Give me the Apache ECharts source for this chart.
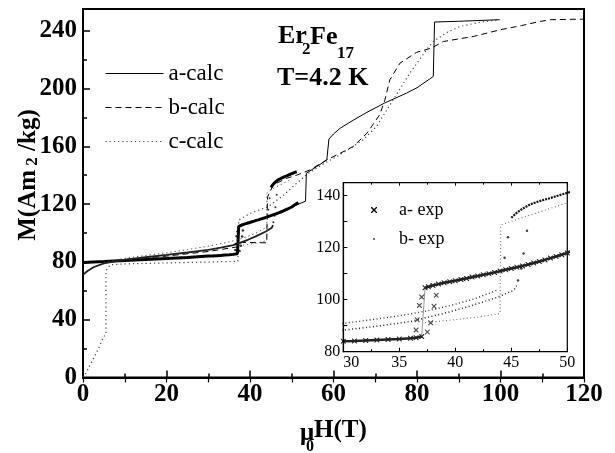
<!DOCTYPE html>
<html>
<head>
<meta charset="utf-8">
<script src="https://cdn.jsdelivr.net/npm/echarts@6/dist/echarts.min.js"></script>
<style>
  html, body { margin: 0; padding: 0; background: #fff; }
  #chart { width: 615px; height: 453px; }
</style>
</head>
<body>
<div id="chart"></div>
<script>
// Magnetization M (Am^2/kg) of Er2Fe17 at 4.2 K versus applied field mu0H (T)

// tick positions
const mainYLabelValues = [0, 40, 80, 120, 160, 200, 240];
const mainYMinorValues = [20, 60, 100, 140, 180, 220];
const insetYLabelValues = [80, 100, 120, 140];
const insetYTickValues = [80, 90, 100, 110, 120, 130, 140];

// calculated curves, [field, M]
const aCalc = [[0,79.5],[10,81],[20,82.5],[30,84],[37.1,85.6],[37.15,104.3],[40,107.3],[45,112],[50,118],[53.3,122],[53.5,141.4],[56,146],[58.4,150.6],[58.9,165],[60,168.5],[61.6,172.5],[64.7,178],[68,183.5],[72.3,190],[77.5,196.8],[80,200.5],[83.9,208.3],[84.2,246],[90,246.5],[99.7,247.6]];
const bCalc = [[0,79],[5,80.3],[10,81.6],[20,84],[30,87.2],[37.2,90.5],[38,93.5],[44,93.2],[44.2,125],[45.6,133.3],[48.8,137.9],[51.2,140],[54.4,143.7],[58.4,150.6],[61.5,155],[64.7,159.8],[68,169],[71.1,182],[72.3,192],[73.5,206],[75.9,217.5],[79.9,225],[83.5,228],[86.3,232.5],[93.5,236],[99.9,240.6],[105,243.5],[109.5,246.4],[112,247.6],[120,248]];
const cCalc = [[0,0],[0.9,4],[2.3,12],[3.7,20],[4.9,28],[5.5,30],[5.5,74],[6.5,78],[10,78.6],[20,79.3],[30,79.9],[37.1,80.4],[37.3,109],[40,113.5],[44.4,118.3],[48,126],[51,134],[54,141.4],[58,148.5],[60.8,152.9],[64,158.5],[67.1,164.5],[70.3,173.7],[74.3,192.2],[78.3,210.7],[82.3,226.8],[83.9,232.5],[87,238.5],[90.3,242.9],[95,245.8],[99.9,247.6]];

// measured data along a
const aExpLow = [[0,79.5],[5,80.2],[10,81],[15,81.7],[20,82.4],[25,83.1],[30,84],[31,84.1],[32,84.3],[33,84.5],[34,84.7],[35,84.9],[36,85.2],[36.5,85.4],[37,85.8]];
const aExpHigh = [[37.3,104.6],[37.6,105],[38,105.5],[38.5,106],[39,106.5],[39.5,106.9],[40,107.3],[40.5,107.8],[41,108.2],[41.5,108.7],[42,109.1],[42.5,109.6],[43,110],[43.5,110.5],[44,111],[44.5,111.5],[45,112],[45.5,112.5],[46,113],[46.5,113.5],[47,114.1],[47.5,114.7],[48,115.3],[48.5,116],[49,116.6],[49.5,117.3],[50,118],[51,120],[51.6,121]];
const aExpJump = [[36.5,88.3],[36.6,92.3],[36.8,97.8],[37.0,101],[37.5,87.6],[37.8,91.1],[38.1,97.5],[38.3,101.7]];

// measured data along b (several field sweeps)
const bExpUp = [[0,71],[1,73.5],[2.5,76.3],[5,79],[10,81.5],[15,83.2],[20,84.8],[25,86.5],[30,88.3],[33,89.8],[36,91.6],[39.5,95.3],[41.5,97.8],[43.8,101],[45.2,103.6],[45.5,105.5]];
const bExpUpHigh = [[45.0,131.5],[45.5,133.5],[46,135],[46.7,136.7],[47.5,137.9],[48.5,139.1],[49.3,140.2],[50,141.1],[51.2,142.5]];
const bExpJump = [[45.6,107.4],[45.9,112],[46.1,117.8],[46.4,126.5],[44.7,124],[44.4,116.1]];
const bExpMid = [[5,80],[10,82.5],[16,84.8],[20,86.3],[25,88.5],[30,90.9],[32,92],[35,93.8],[37.5,95.7],[39.6,97.8],[41.7,100.3],[43.7,103.6]];
const bExpDown = [[37.3,91.2],[39.5,92.1],[42,93.3],[44,94.7]];
const bExpDownHigh = [[44.05,127.8],[44.2,129],[46,131.6],[48,134.4],[50,137.3]];

const SERIF = '"Liberation Serif", "DejaVu Serif", serif';
const CROSS = 'path://M0,0L1.6,0L5,3.4L8.4,0L10,0L10,1.6L6.6,5L10,8.4L10,10L8.4,10L5,6.6L1.6,10L0,10L0,8.4L3.4,5L0,1.6Z';
const DOT = 'path://M0,0M10,10M3.8,3.8L6.2,3.8L6.2,6.2L3.8,6.2Z';

function line(name, data, style, extra) {
  return Object.assign({
    name: name, type: 'line', data: data, symbol: 'none',
    xAxisIndex: 0, yAxisIndex: 0, z: 3, animation: false,
    lineStyle: Object.assign({ color: '#000', width: 1 }, style),
    itemStyle: { color: style.color || '#000' }
  }, extra || {});
}
function dots(name, data, symbol, size, color, extra) {
  return Object.assign({
    name: name, type: 'scatter', data: data, symbol: symbol, symbolSize: size,
    xAxisIndex: 0, yAxisIndex: 0, z: 3, animation: false,
    itemStyle: { color: color }
  }, extra || {});
}
const INSET = { xAxisIndex: 2, yAxisIndex: 2, z: 6 };

const chart = echarts.init(document.getElementById('chart'), null, { renderer: 'canvas' });

chart.setOption({
  animation: false,
  backgroundColor: '#fff',
  grid: [
    { left: 83, top: 9, width: 501, height: 368.5, show: true, borderColor: '#000', borderWidth: 2, backgroundColor: 'transparent' },
    { left: 343.3, top: 182.7, width: 224, height: 169, show: true, borderColor: '#000', borderWidth: 1.2, backgroundColor: '#fff', z: 5 }
  ],
  xAxis: [
    { type: 'value', gridIndex: 0, position: 'bottom', min: 0, max: 120, interval: 20,
      axisLine: { lineStyle: { color: '#000', width: 2 } },
      axisTick: { inside: true, length: 7, lineStyle: { color: '#000', width: 1.5 } },
      minorTick: { show: true, splitNumber: 2, length: 4, lineStyle: { color: '#000', width: 1.5 } },
      splitLine: { show: false },
      axisLabel: { margin: 5, fontFamily: SERIF, fontWeight: 'bold', fontSize: 25, color: '#000' } },
    { type: 'value', gridIndex: 0, position: 'top', min: 0, max: 120, interval: 10,
      axisLine: { show: false },
      axisTick: { inside: true, length: 5, lineStyle: { color: '#000', width: 1.2 } },
      splitLine: { show: false }, axisLabel: { show: false } },
    { type: 'value', gridIndex: 1, position: 'bottom', min: 30, max: 50, interval: 5, z: 7,
      axisLine: { lineStyle: { color: '#000', width: 1.2 } },
      axisTick: { inside: true, length: 4, lineStyle: { color: '#000', width: 1 } },
      minorTick: { show: true, splitNumber: 2, length: 2.5, lineStyle: { color: '#000', width: 1 } },
      splitLine: { show: false },
      axisLabel: { margin: 3, fontFamily: SERIF, fontSize: 16, color: '#000', alignMinLabel: 'left' } },
    { type: 'value', gridIndex: 1, position: 'top', min: 30, max: 50, interval: 5, z: 7,
      axisLine: { show: false },
      axisTick: { inside: true, length: 3, lineStyle: { color: '#000', width: 1 } },
      minorTick: { show: true, splitNumber: 2, length: 2, lineStyle: { color: '#000', width: 1 } },
      splitLine: { show: false }, axisLabel: { show: false } }
  ],
  yAxis: [
    { type: 'value', gridIndex: 0, position: 'left', min: 0, max: 255,
      axisLine: { lineStyle: { color: '#000', width: 2 } },
      axisTick: { inside: true, length: 7, customValues: mainYLabelValues, lineStyle: { color: '#000', width: 1.5 } },
      splitLine: { show: false },
      axisLabel: { margin: 6, customValues: mainYLabelValues, fontFamily: SERIF, fontWeight: 'bold', fontSize: 25, color: '#000' } },
    { type: 'value', gridIndex: 0, position: 'left', min: 0, max: 255,
      axisLine: { show: false },
      axisTick: { inside: true, length: 4, customValues: mainYMinorValues, lineStyle: { color: '#000', width: 1.5 } },
      splitLine: { show: false }, axisLabel: { show: false } },
    { type: 'value', gridIndex: 1, position: 'left', min: 80, max: 145, z: 7,
      axisLine: { lineStyle: { color: '#000', width: 1.2 } },
      axisTick: { inside: true, length: 4, customValues: insetYTickValues, lineStyle: { color: '#000', width: 1 } },
      splitLine: { show: false },
      axisLabel: { margin: 3, customValues: insetYLabelValues, fontFamily: SERIF, fontSize: 16, color: '#000' } }
  ],
  legend: [
    { left: 100, top: 57, orient: 'vertical', itemWidth: 58, itemHeight: 13, itemGap: 11,
      selectedMode: false, data: ['a-calc', 'b-calc', 'c-calc'],
      itemStyle: { opacity: 0, borderWidth: 0 },
      lineStyle: { width: 1 },
      textStyle: { fontFamily: SERIF, fontSize: 23, color: '#000', lineHeight: 23 } },
    { left: 366, top: 196, orient: 'vertical', itemWidth: 40, itemHeight: 6, itemGap: 11, z: 8,
      selectedMode: false,
      data: [ { name: 'a- exp', icon: CROSS, itemStyle: { color: '#000' } },
              { name: 'b- exp', icon: DOT, itemStyle: { color: '#000' } } ],
      textStyle: { fontFamily: SERIF, fontSize: 18, color: '#000', lineHeight: 18 } }
  ],
  series: [
    // main panel: calculated curves
    line('a-calc', aCalc, { width: 1 }),
    line('b-calc', bCalc, { width: 1, type: [6, 4] }),
    line('c-calc', cCalc, { width: 1.2, type: [1.2, 3], color: '#444' }),
    // main panel: measured data
    line('a- exp', aExpLow.concat(aExpHigh), { width: 3 }),
    dots('a- exp', aExpJump, 'circle', 2.5, '#000'),
    line('b- exp', bExpUp, { width: 1.8, color: '#222' }),
    line('b- exp', bExpUpHigh, { width: 3 }),
    line('b- exp', bExpMid, { width: 1, type: [1.2, 3], color: '#444' }),
    line('b- exp', bExpDown.concat(bExpDownHigh), { width: 1, type: [1.2, 3], color: '#555' }),
    dots('b- exp', bExpJump, 'circle', 2, '#000'),

    // inset: measured data, 30-50 T
    line('a- exp', aExpLow, { width: 2.5, color: '#222' }, Object.assign({ symbol: CROSS, symbolSize: 5, showAllSymbol: true }, INSET)),
    line('a- exp', aExpHigh, { width: 2.5, color: '#222' }, Object.assign({ symbol: CROSS, symbolSize: 5, showAllSymbol: true }, INSET)),
    line('a- exp', [aExpLow[aExpLow.length - 1], aExpHigh[0]], { width: 1, color: '#999' }, INSET),
    dots('a- exp', aExpJump, CROSS, 5, '#222', INSET),
    line('b- exp', bExpUp, { width: 1.5, type: [1, 2.5], color: '#222' }, INSET),
    line('b- exp', bExpUpHigh, { width: 2.2, type: [2, 1], color: '#111' }, INSET),
    line('b- exp', bExpMid, { width: 1.4, type: [1, 2.5], color: '#333' }, INSET),
    line('b- exp', bExpDown.concat(bExpDownHigh), { width: 1.2, type: [1, 2.5], color: '#777' }, INSET),
    dots('b- exp', bExpJump, 'circle', 2.5, '#111', INSET)
  ],
  graphic: [
    // compound and temperature
    { type: 'text', x: 278, y: 36, z: 20, style: { text: 'Er', font: 'bold 26px ' + SERIF, fill: '#000', verticalAlign: 'middle' } },
    { type: 'text', x: 302, y: 50, z: 20, style: { text: '2', font: 'bold 17px ' + SERIF, fill: '#000', verticalAlign: 'middle' } },
    { type: 'text', x: 310, y: 37, z: 20, style: { text: 'Fe', font: 'bold 26px ' + SERIF, fill: '#000', verticalAlign: 'middle' } },
    { type: 'text', x: 337, y: 54, z: 20, style: { text: '17', font: 'bold 17px ' + SERIF, fill: '#000', verticalAlign: 'middle' } },
    { type: 'text', x: 277, y: 78, z: 20, style: { text: 'T=4.2 K', font: 'bold 26px ' + SERIF, fill: '#000', verticalAlign: 'middle' } },
    // axis titles
    { type: 'text', x: 29, y: 175, rotation: Math.PI / 2, z: 20,
      style: { text: '{n|M(Am}{s| 2}{n| /kg)}', align: 'center', verticalAlign: 'middle', fill: '#000',
        rich: { n: { fontFamily: SERIF, fontWeight: 'bold', fontSize: 25, verticalAlign: 'bottom' },
                s: { fontFamily: SERIF, fontWeight: 'bold', fontSize: 17, verticalAlign: 'bottom' } } } },
    { type: 'text', x: 300, y: 434, z: 20, style: { text: 'μ', font: 'bold 25px ' + SERIF, fill: '#000', verticalAlign: 'middle' } },
    { type: 'text', x: 306, y: 447, z: 20, style: { text: '0', font: 'bold 16px ' + SERIF, fill: '#000', verticalAlign: 'middle' } },
    { type: 'text', x: 314, y: 431, z: 20, style: { text: 'H(T)', font: 'bold 25px ' + SERIF, fill: '#000', verticalAlign: 'middle' } }
  ]
});
</script>
</body>
</html>
